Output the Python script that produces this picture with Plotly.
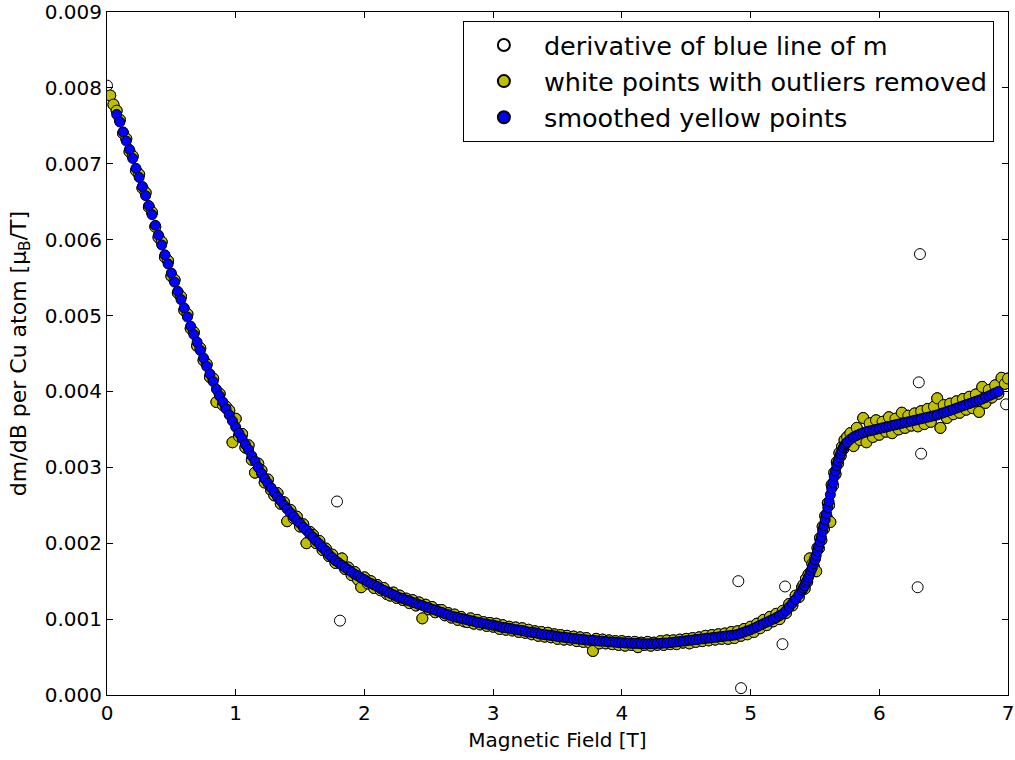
import plotly.graph_objects as go

# Magnetic field grid [T] (denser sweep through the step near 5.5 T)
field = [
    0.000, 0.025, 0.050, 0.075, 0.100, 0.125, 0.150, 0.175,
    0.200, 0.225, 0.250, 0.275, 0.300, 0.325, 0.350, 0.375,
    0.400, 0.425, 0.450, 0.475, 0.500, 0.525, 0.550, 0.575,
    0.600, 0.625, 0.650, 0.675, 0.700, 0.725, 0.750, 0.775,
    0.800, 0.825, 0.850, 0.875, 0.900, 0.925, 0.950, 0.975,
    1.000, 1.025, 1.050, 1.075, 1.100, 1.125, 1.150, 1.175,
    1.200, 1.225, 1.250, 1.275, 1.300, 1.325, 1.350, 1.375,
    1.400, 1.425, 1.450, 1.475, 1.500, 1.525, 1.550, 1.575,
    1.600, 1.625, 1.650, 1.675, 1.700, 1.725, 1.750, 1.775,
    1.800, 1.825, 1.850, 1.875, 1.900, 1.925, 1.950, 1.975,
    2.000, 2.025, 2.050, 2.075, 2.100, 2.125, 2.150, 2.175,
    2.200, 2.225, 2.250, 2.275, 2.300, 2.325, 2.350, 2.375,
    2.400, 2.425, 2.450, 2.475, 2.500, 2.525, 2.550, 2.575,
    2.600, 2.625, 2.650, 2.675, 2.700, 2.725, 2.750, 2.775,
    2.800, 2.825, 2.850, 2.875, 2.900, 2.925, 2.950, 2.975,
    3.000, 3.025, 3.050, 3.075, 3.100, 3.125, 3.150, 3.175,
    3.200, 3.225, 3.250, 3.275, 3.300, 3.325, 3.350, 3.375,
    3.400, 3.425, 3.450, 3.475, 3.500, 3.525, 3.550, 3.575,
    3.600, 3.625, 3.650, 3.675, 3.700, 3.725, 3.750, 3.775,
    3.800, 3.825, 3.850, 3.875, 3.900, 3.925, 3.950, 3.975,
    4.000, 4.025, 4.050, 4.075, 4.100, 4.125, 4.150, 4.175,
    4.200, 4.225, 4.250, 4.275, 4.300, 4.325, 4.350, 4.375,
    4.400, 4.425, 4.450, 4.475, 4.500, 4.525, 4.550, 4.575,
    4.600, 4.625, 4.650, 4.675, 4.700, 4.725, 4.750, 4.775,
    4.800, 4.825, 4.850, 4.875, 4.900, 4.925, 4.950, 4.975,
    5.000, 5.025, 5.050, 5.075, 5.100, 5.125, 5.150, 5.175,
    5.200, 5.225, 5.250, 5.275, 5.300, 5.325, 5.350, 5.375,
    5.400,
    5.41, 5.42, 5.43, 5.44, 5.45, 5.46, 5.47, 5.48, 5.49, 5.50,
    5.51, 5.52, 5.53, 5.54, 5.55, 5.56, 5.57, 5.58, 5.59, 5.60,
    5.61, 5.62, 5.63, 5.64, 5.65, 5.66, 5.67, 5.68, 5.69, 5.70,
    5.71, 5.72, 5.73, 5.74, 5.75,
    5.775, 5.800, 5.825, 5.850, 5.875, 5.900, 5.925, 5.950, 5.975, 6.000,
    6.025, 6.050, 6.075, 6.100, 6.125, 6.150, 6.175, 6.200, 6.225, 6.250,
    6.275, 6.300, 6.325, 6.350, 6.375, 6.400, 6.425, 6.450, 6.475, 6.500,
    6.525, 6.550, 6.575, 6.600, 6.625, 6.650, 6.675, 6.700, 6.725, 6.750,
    6.775, 6.800, 6.825, 6.850, 6.875, 6.900, 6.925, 6.950, 6.975, 7.000,
]

# dm/dB after outlier removal, in units of 1e-3 mu_B/T per Cu atom
cleaned_e3 = [
    None, 7.90, 7.78, 7.70, 7.58, 7.40, 7.33, 7.16,
    7.10, 6.91, 6.86, 6.68, 6.62, 6.43, 6.36, 6.17,
    6.03, 5.97, 5.77, 5.72, 5.52, 5.47, 5.30, 5.25,
    5.07, 5.02, 4.83, 4.78, 4.60, 4.57, 4.41, 4.36,
    4.19, 4.17, 3.86, 3.97, 3.82, 3.80, 3.75, 3.33,
    3.64, 3.41, 3.44, 3.26, 3.29, 3.10, 2.93, 3.05,
    2.96, 2.80, 2.84, 2.70, 2.63, 2.66, 2.52, 2.54,
    2.29, 2.44, 2.33, 2.35, 2.22, 2.25, 2.00, 2.15,
    2.11, 2.00, 2.03, 1.91, 1.93, 1.83, 1.85, 1.74,
    1.76, 1.80, 1.66, 1.68, 1.58, 1.62, 1.52, 1.42,
    1.55, 1.47, 1.50, 1.41, 1.45, 1.38, 1.41, 1.33,
    1.31, 1.35, 1.28, 1.31, 1.25, 1.27, 1.21, 1.25,
    1.18, 1.22, 1.01, 1.19, 1.13, 1.16, 1.09, 1.12,
    1.12, 1.05, 1.08, 1.02, 1.06, 0.99, 1.03, 0.97,
    0.96, 1.01, 0.94, 0.99, 0.93, 0.96, 0.91, 0.95,
    0.90, 0.94, 0.87, 0.92, 0.86, 0.90, 0.85, 0.89,
    0.83, 0.88, 0.82, 0.86, 0.80, 0.84, 0.78, 0.83,
    0.77, 0.82, 0.76, 0.80, 0.74, 0.79, 0.73, 0.78,
    0.73, 0.77, 0.71, 0.76, 0.70, 0.75, 0.69, 0.58,
    0.74, 0.68, 0.73, 0.68, 0.72, 0.67, 0.71, 0.66,
    0.71, 0.65, 0.70, 0.66, 0.70, 0.63, 0.69, 0.66,
    0.70, 0.65, 0.69, 0.66, 0.71, 0.66, 0.72, 0.67,
    0.72, 0.67, 0.73, 0.69, 0.74, 0.68, 0.75, 0.70,
    0.76, 0.71, 0.78, 0.72, 0.79, 0.73, 0.80, 0.74,
    0.81, 0.74, 0.83, 0.75, 0.84, 0.78, 0.87, 0.80,
    0.90, 0.83, 0.94, 0.88, 0.99, 0.92, 1.03, 0.97,
    1.07, 1.00, 1.11, 1.08, 1.20, 1.18, 1.31, 1.29,
    1.42,
    1.45, 1.40, 1.53, 1.49, 1.59, 1.80, 1.62, 1.73, 1.70, 1.80,
    1.63, 1.94, 1.93, 2.07, 2.04, 2.22, 2.19, 2.36, 2.35, 2.53,
    2.50, 2.28, 2.77, 2.76, 2.93, 2.91, 3.07, 3.05, 3.19, 3.15,
    3.27, 3.24, 3.36, 3.30, 3.40,
    3.45, 3.28, 3.52, 3.36, 3.65, 3.33, 3.58, 3.40, 3.62, 3.43,
    3.60, 3.47, 3.66, 3.45, 3.64, 3.50, 3.72, 3.52, 3.68, 3.55,
    3.71, 3.54, 3.74, 3.57, 3.77, 3.60, 3.80, 3.91, 3.52, 3.82,
    3.65, 3.84, 3.70, 3.87, 3.72, 3.90, 3.76, 3.93, 3.78, 3.96,
    3.73, 4.06, 3.85, 4.02, 3.92, 4.08, 3.97, 4.18, 4.10, 4.17,
]

# Smoothed dm/dB, in units of 1e-3 mu_B/T per Cu atom
smoothed_e3 = [
    None, None, None, 7.65, 7.55, 7.42, 7.30, 7.19,
    7.07, 6.94, 6.82, 6.70, 6.58, 6.45, 6.33, 6.19,
    6.06, 5.93, 5.80, 5.68, 5.56, 5.44, 5.32, 5.21,
    5.10, 4.98, 4.86, 4.75, 4.65, 4.54, 4.44, 4.33,
    4.23, 4.13, 4.03, 3.94, 3.86, 3.77, 3.69, 3.61,
    3.53, 3.45, 3.38, 3.30, 3.23, 3.15, 3.08, 3.00,
    2.92, 2.85, 2.79, 2.73, 2.67, 2.61, 2.56, 2.50,
    2.45, 2.40, 2.35, 2.30, 2.26, 2.21, 2.17, 2.12,
    2.08, 2.03, 1.99, 1.94, 1.90, 1.85, 1.81, 1.77,
    1.74, 1.71, 1.68, 1.65, 1.62, 1.59, 1.57, 1.54,
    1.52, 1.49, 1.47, 1.45, 1.43, 1.40, 1.38, 1.36,
    1.34, 1.32, 1.30, 1.28, 1.27, 1.25, 1.24, 1.22,
    1.21, 1.19, 1.18, 1.16, 1.15, 1.13, 1.12, 1.10,
    1.09, 1.07, 1.06, 1.04, 1.03, 1.02, 1.01, 1.00,
    0.99, 0.98, 0.97, 0.96, 0.95, 0.94, 0.935, 0.925,
    0.92, 0.91, 0.90, 0.89, 0.885, 0.88, 0.87, 0.86,
    0.855, 0.85, 0.84, 0.83, 0.825, 0.82, 0.81, 0.80,
    0.795, 0.79, 0.785, 0.78, 0.77, 0.765, 0.76, 0.755,
    0.75, 0.745, 0.74, 0.735, 0.73, 0.725, 0.72, 0.72,
    0.715, 0.71, 0.71, 0.705, 0.70, 0.70, 0.695, 0.69,
    0.69, 0.685, 0.685, 0.68, 0.68, 0.68, 0.675, 0.675,
    0.675, 0.675, 0.675, 0.68, 0.68, 0.685, 0.685, 0.69,
    0.695, 0.70, 0.705, 0.71, 0.715, 0.72, 0.725, 0.73,
    0.735, 0.74, 0.745, 0.75, 0.755, 0.76, 0.765, 0.77,
    0.775, 0.78, 0.785, 0.79, 0.80, 0.815, 0.83, 0.845,
    0.86, 0.88, 0.90, 0.92, 0.94, 0.96, 0.98, 1.00,
    1.02, 1.045, 1.07, 1.11, 1.16, 1.21, 1.26, 1.32,
    1.38,
    1.41, 1.44, 1.48, 1.51, 1.55, 1.59, 1.64, 1.68, 1.73, 1.78,
    1.84, 1.90, 1.96, 2.02, 2.08, 2.16, 2.23, 2.31, 2.39, 2.47,
    2.55, 2.64, 2.72, 2.80, 2.88, 2.95, 3.02, 3.08, 3.13, 3.18,
    3.22, 3.26, 3.29, 3.31, 3.33,
    3.37, 3.40, 3.42, 3.44, 3.455, 3.47, 3.48, 3.49, 3.50, 3.51,
    3.52, 3.53, 3.54, 3.55, 3.56, 3.57, 3.58, 3.59, 3.60, 3.61,
    3.62, 3.63, 3.64, 3.65, 3.66, 3.67, 3.68, 3.69, 3.705, 3.72,
    3.735, 3.75, 3.765, 3.78, 3.795, 3.81, 3.825, 3.84, 3.855, 3.87,
    3.885, 3.90, 3.92, 3.94, 3.96, 3.98, 4.00, None, None, None,
]

# Raw-derivative points that were rejected as outliers
outlier_field = [0.000, 1.787, 1.810, 4.905, 4.926, 5.248, 5.268, 6.298, 6.307, 6.316, 6.325, 6.985]
outlier_e3 = [8.03, 2.55, 0.98, 1.50, 0.09, 0.67, 1.43, 1.42, 4.12, 5.81, 3.18, 3.83]

y_ticks = [0.000, 0.001, 0.002, 0.003, 0.004, 0.005, 0.006, 0.007, 0.008, 0.009]
x_ticks = [0, 1, 2, 3, 4, 5, 6, 7]


def to_si(values):
    return [None if v is None else v * 1e-3 for v in values]


# the raw derivative is the cleaned set plus the rejected points
raw_field = field + outlier_field
raw_vals = to_si(cleaned_e3) + to_si(outlier_e3)

FONT = "DejaVu Sans"
edge = dict(color="black", width=1)

fig = go.Figure()
fig.add_trace(go.Scatter(
    x=raw_field, y=raw_vals, mode="markers",
    name="derivative of blue line of m",
    marker=dict(symbol="circle", size=11, color="white", line=edge),
))
fig.add_trace(go.Scatter(
    x=field, y=to_si(cleaned_e3), mode="markers",
    name="white points with outliers removed",
    marker=dict(symbol="circle", size=11, color="#bfbf00", line=edge),
))
fig.add_trace(go.Scatter(
    x=field, y=to_si(smoothed_e3), mode="markers",
    name="smoothed yellow points",
    marker=dict(symbol="circle", size=10, color="#0000ff", line=edge),
))

axis_common = dict(
    showline=True, linecolor="black", linewidth=1, mirror="allticks",
    ticks="inside", ticklen=6, tickwidth=1, tickcolor="black",
    showgrid=False, zeroline=False, automargin=False,
    tickfont=dict(family=FONT, size=20, color="black"),
)

fig.update_xaxes(
    range=[0, 7], tickvals=x_ticks, ticktext=[str(t) for t in x_ticks],
    title=dict(text="Magnetic Field [T]", font=dict(family=FONT, size=20, color="black"), standoff=8),
    **axis_common,
)
fig.update_yaxes(
    range=[0, 0.009], tickvals=y_ticks, ticktext=[f"{t:.3f}" for t in y_ticks],
    title=dict(text="dm/dB per Cu atom [μ<sub>B</sub>/T]", font=dict(family=FONT, size=22, color="black"), standoff=12),
    **axis_common,
)

fig.update_layout(
    width=1015, height=760,
    margin=dict(l=107, r=7, t=12, b=65),
    paper_bgcolor="white", plot_bgcolor="white",
    font=dict(family=FONT, color="black"),
    showlegend=True,
    legend=dict(
        x=0.395, y=0.987, xanchor="left", yanchor="top",
        bgcolor="white", bordercolor="black", borderwidth=1,
        font=dict(family=FONT, size=25.5, color="black"),
        itemsizing="constant", itemwidth=70,
        tracegroupgap=4,
    ),
)

fig.write_html("out.html")
